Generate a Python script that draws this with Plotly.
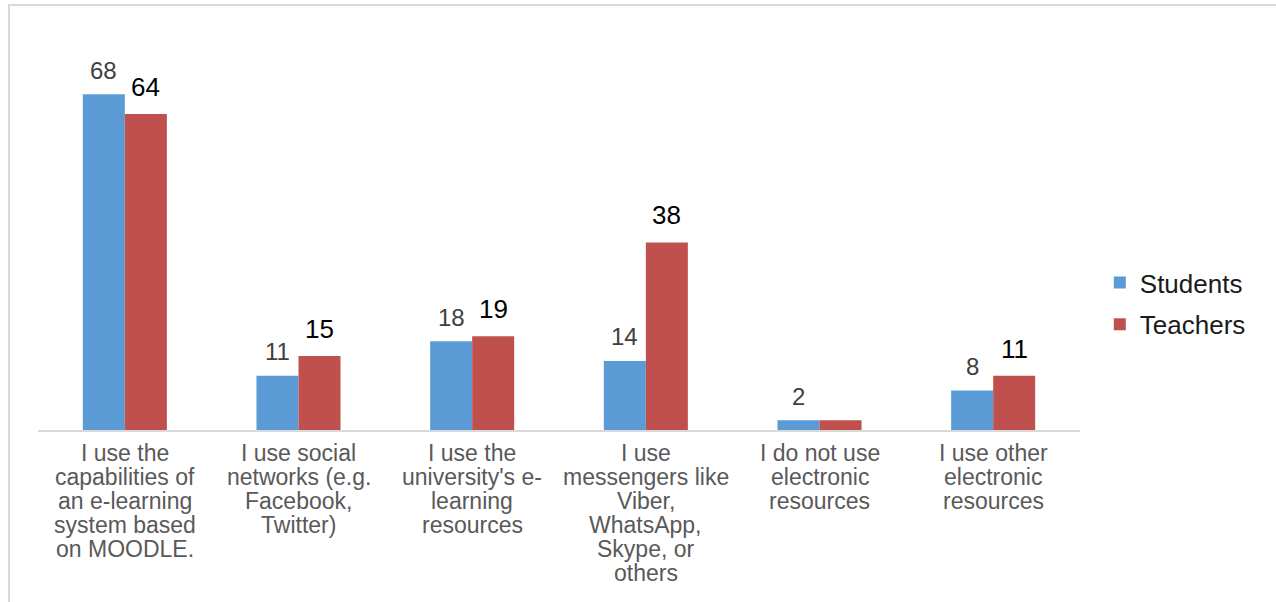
import plotly.graph_objects as go

categories = [
    "I use the capabilities of an e-learning system based on MOODLE.",
    "I use social networks (e.g. Facebook, Twitter)",
    "I use the university's e-learning resources",
    "I use messengers like Viber, WhatsApp, Skype, or others",
    "I do not use electronic resources",
    "I use other electronic resources",
]
label_lines = [
    ["I use the", "capabilities of", "an e-learning", "system based", "on MOODLE."],
    ["I use social", "networks (e.g.", "Facebook,", "Twitter)"],
    ["I use the", "university's e-", "learning", "resources"],
    ["I use", "messengers like", "Viber,", "WhatsApp,", "Skype, or", "others"],
    ["I do not use", "electronic", "resources"],
    ["I use other", "electronic", "resources"],
]
students = [68, 11, 18, 14, 2, 8]
teachers = [64, 15, 19, 38, 2, 11]
teacher_labels = ["64", "15", "19", "38", None, "11"]
student_labels = ["68", "11", "18", "14", "2", "8"]

FONT = "Liberation Sans, Arial, sans-serif"
BLUE = "#5B9BD5"
RED = "#C0504D"

fig = go.Figure()
fig.add_trace(go.Bar(x=categories, y=students, name="Students", marker_color=BLUE,
                     marker_line_width=0, legendgroup="s"))
fig.add_trace(go.Bar(x=categories, y=teachers, name="Teachers", marker_color=RED,
                     marker_line_width=0, legendgroup="t"))

annotations = []
for cat, lines in zip(categories, label_lines):
    for i, ln in enumerate(lines):
        annotations.append(dict(x=cat, y=0, xref="x", yref="y", text=ln, showarrow=False,
                                yanchor="middle", xanchor="center", yshift=-(23 + 24 * i),
                                font=dict(family=FONT, size=23, color="#595959")))
for cat, v, lab in zip(categories, students, student_labels):
    if lab:
        annotations.append(dict(x=cat, y=v, xref="x", yref="y", text=lab, showarrow=False,
                                yanchor="middle", xanchor="center", xshift=-21, yshift=24,
                                font=dict(family=FONT, size=24, color="#404040")))
for cat, v, lab in zip(categories, teachers, teacher_labels):
    if lab:
        annotations.append(dict(x=cat, y=v, xref="x", yref="y", text=lab, showarrow=False,
                                yanchor="middle", xanchor="center", xshift=21, yshift=27,
                                font=dict(family=FONT, size=26, color="#000000")))

fig.update_layout(
    width=1276, height=602,
    margin=dict(l=38, r=196, t=35, b=172),
    paper_bgcolor="white", plot_bgcolor="white",
    barmode="group", bargap=0.516, bargroupgap=0,
    font=dict(family=FONT),
    showlegend=True,
    legend=dict(x=1.019, y=0.32, xanchor="left", yanchor="middle",
                font=dict(family=FONT, size=26, color="#1a1a1a"),
                tracegroupgap=5, bgcolor="rgba(0,0,0,0)"),
    xaxis=dict(showticklabels=False, showline=True, linecolor="#d9d9d9", linewidth=2,
               ticks="", showgrid=False, zeroline=False),
    yaxis=dict(range=[0, 80], visible=False, showgrid=False, zeroline=False),
    annotations=annotations,
    shapes=[dict(type="rect", xref="paper", yref="paper", x0=-0.0278, x1=1.3, y0=-0.6, y1=1.076,
                 line=dict(color="#d9d9d9", width=2), fillcolor="rgba(0,0,0,0)", layer="below")],
)

fig.write_html("out.html")
